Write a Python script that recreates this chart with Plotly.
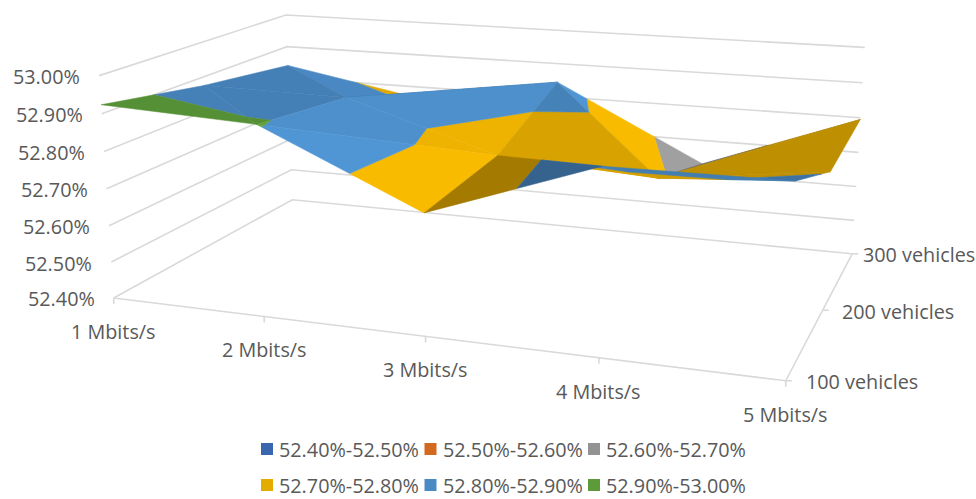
import numpy as np
import plotly.graph_objects as go

# Chart values: packet delivery (%) per bandwidth and vehicle count
BANDWIDTHS = ["1 Mbits/s", "2 Mbits/s", "3 Mbits/s", "4 Mbits/s", "5 Mbits/s"]
VEHICLES = ["100 vehicles", "200 vehicles", "300 vehicles"]
VALUES_100 = [52.924, 52.905, 52.718, 52.872, 52.875]
VALUES_200 = [52.875, 52.870, 52.740, 52.715, 52.770]
VALUES_300 = [52.840, 52.765, 52.844, 52.630, 52.795]
Z_TICKS = [52.40, 52.50, 52.60, 52.70, 52.80, 52.90, 53.00]
BAND_NAMES = ["52.40%-52.50%", "52.50%-52.60%", "52.60%-52.70%",
              "52.70%-52.80%", "52.80%-52.90%", "52.90%-53.00%"]
BAND_COLORS = [(58, 102, 174), (210, 105, 30), (147, 147, 147),
               (229, 172, 0), (74, 138, 196), (92, 154, 58)]

TEXT_COLOR = "#595959"
GRID_COLOR = "#D9D9D9"
FONT = dict(family="Open Sans", size=19.8, color=TEXT_COLOR)

Z = np.array([VALUES_100, VALUES_200, VALUES_300])
Z_LO, Z_HI = Z_TICKS[0], Z_TICKS[-1]

# Pinhole camera for the chart box, solved from where the box lands on the canvas
# (unit box coordinates -> canvas pixels).
CALIBRATION = [
    (0, 0, 0, 113, 297), (.25, 0, 0, 265, 318), (.5, 0, 0, 425, 337), (.75, 0, 0, 598, 357),
    (1, 0, 0, 786, 381), (1, .5, 0, 823, 310), (1, 1, 0, 852, 253), (0, 1, 0, 293, 200),
    (0, 0, 1, 100, 75), (0, 1, 1, 285, 15), (1, 1, 1, 865, 48),
]


def solve_camera(rows):
    eqs = []
    for X, Y, W, u, v in rows:
        u, v = u / 1000, v / 1000
        eqs.append([X, Y, W, 1, 0, 0, 0, 0, -u * X, -u * Y, -u * W, -u])
        eqs.append([0, 0, 0, 0, X, Y, W, 1, -v * X, -v * Y, -v * W, -v])
    m = np.linalg.svd(np.array(eqs, float))[2][-1].reshape(3, 4)
    return m


CAMERA = solve_camera(CALIBRATION)


def project(i, j, z):
    """Grid position (bandwidth index, vehicle index, value) to canvas pixels."""
    p = CAMERA @ np.array([i / (len(BANDWIDTHS) - 1), j / (len(VEHICLES) - 1),
                           (z - Z_LO) / (Z_HI - Z_LO), 1.0])
    return 1000 * p[0] / p[2], 1000 * p[1] / p[2]


def clip_band(tri, lo, hi):
    """Part of a triangle (i, j, z vertices) whose z lies inside [lo, hi]."""
    poly = [np.array(v, float) for v in tri]
    for level, keep_above in ((lo, True), (hi, False)):
        out = []
        for k, a in enumerate(poly):
            b = poly[(k + 1) % len(poly)]
            ina = a[2] >= level if keep_above else a[2] <= level
            inb = b[2] >= level if keep_above else b[2] <= level
            if ina:
                out.append(a)
            if ina != inb:
                t = (level - a[2]) / (b[2] - a[2])
                out.append(a + t * (b - a))
        poly = out
        if not poly:
            return []
    return poly


def shade(tri):
    """Facets that fall towards higher bandwidth catch the light; rising ones sit in shadow."""
    A = np.array([[v[0], v[1], 1.0] for v in tri])
    slope = np.linalg.solve(A, np.array([v[2] for v in tri]))[0]
    k = 1.6 if slope > 0 else 0.95
    return float(np.clip(0.92 - k * slope, 0.72, 1.09))


fig = go.Figure()


def add_line(points, width=1.6):
    fig.add_trace(go.Scatter(x=[p[0] for p in points], y=[p[1] for p in points], mode="lines",
                             line=dict(color=GRID_COLOR, width=width), hoverinfo="skip",
                             showlegend=False))


# Gridlines run along the left and back walls
nx, ny = len(BANDWIDTHS) - 1, len(VEHICLES) - 1
for level in Z_TICKS:
    add_line([project(0, 0, level), project(0, ny, level), project(nx, ny, level)])

# Floor axes with their tick marks
add_line([project(0, 0, Z_LO), project(nx, 0, Z_LO), project(nx, ny, Z_LO)])
for i in range(nx + 1):
    x0, y0 = project(i, 0, Z_LO)
    add_line([(x0, y0), (x0, y0 + 6)])
for j in range(ny + 1):
    x0, y0 = project(nx, j, Z_LO)
    add_line([(x0, y0), (x0 + 6, y0)])

# Each grid cell folds along one diagonal: True joins (i, j) to (i+1, j+1)
RISING_DIAGONAL = [[False, True, False, False],
                   [False, True, False, True]]

# Surface facets, painted from the back row forwards
for j in range(ny - 1, -1, -1):
    for i in range(nx):
        a = (i, j, Z[j, i])
        b = (i + 1, j, Z[j, i + 1])
        c = (i + 1, j + 1, Z[j + 1, i + 1])
        d = (i, j + 1, Z[j + 1, i])
        if RISING_DIAGONAL[j][i]:
            tris = [(a, c, d), (a, b, c)]
        else:
            tris = [(d, c, b), (a, b, d)]
        for tri in tris:
            s = shade(tri)
            for band in range(len(BAND_NAMES)):
                poly = clip_band(tri, Z_TICKS[band], Z_TICKS[band + 1])
                if len(poly) < 3:
                    continue
                xy = [project(*v) for v in poly]
                r, g, bl = [min(255, int(c_ * s)) for c_ in BAND_COLORS[band]]
                color = f"rgb({r},{g},{bl})"
                fig.add_trace(go.Scatter(
                    x=[p[0] for p in xy] + [xy[0][0]], y=[p[1] for p in xy] + [xy[0][1]],
                    mode="lines", fill="toself", fillcolor=color,
                    line=dict(color=color, width=0.5), hoverinfo="skip", showlegend=False))

# Axis labels
annotations = []
for k, level in enumerate(Z_TICKS):
    x0, y0 = project(0, 0, level)
    annotations.append(dict(x=x0, y=y0, text=f"{level:.2f}%", xanchor="right", yanchor="middle",
                            xshift=-17, yshift=-1, showarrow=False, font=FONT))
for i, name in enumerate(BANDWIDTHS):
    x0, y0 = project(i, 0, Z_LO)
    annotations.append(dict(x=x0, y=y0, text=name, xanchor="center", yanchor="middle",
                            xshift=0, yshift=-33.5, showarrow=False, font=FONT))
VEHICLE_LABEL_GAP = [18, 17, 9]
for j, name in enumerate(VEHICLES):
    x0, y0 = project(nx, j, Z_LO)
    annotations.append(dict(x=x0, y=y0, text=name, xanchor="left", yanchor="middle",
                            xshift=VEHICLE_LABEL_GAP[j], yshift=-1, showarrow=False, font=FONT))

# Band key below the plot: two rows of three swatches with their ranges
for band, name in enumerate(BAND_NAMES):
    r, g, bl = BAND_COLORS[band]
    row, col = divmod(band, 3)
    kx, ky = 267 + col * 163.5, 449 + row * 36
    fig.add_trace(go.Scatter(x=[kx], y=[ky], mode="markers", name=name, showlegend=False,
                             marker=dict(symbol="square", size=12, color=f"rgb({r},{g},{bl})"),
                             hoverinfo="skip"))
    annotations.append(dict(x=kx, y=ky, text=name, xanchor="left", yanchor="middle",
                            xshift=10, yshift=0, showarrow=False, font=FONT))

fig.update_layout(
    width=976, height=499, margin=dict(l=0, r=0, t=0, b=0, autoexpand=False),
    paper_bgcolor="white", plot_bgcolor="white", showlegend=False,
    xaxis=dict(visible=False, range=[0, 976], fixedrange=True),
    yaxis=dict(visible=False, range=[499, 0], fixedrange=True),
    annotations=annotations,
)

fig.write_html("out.html")
